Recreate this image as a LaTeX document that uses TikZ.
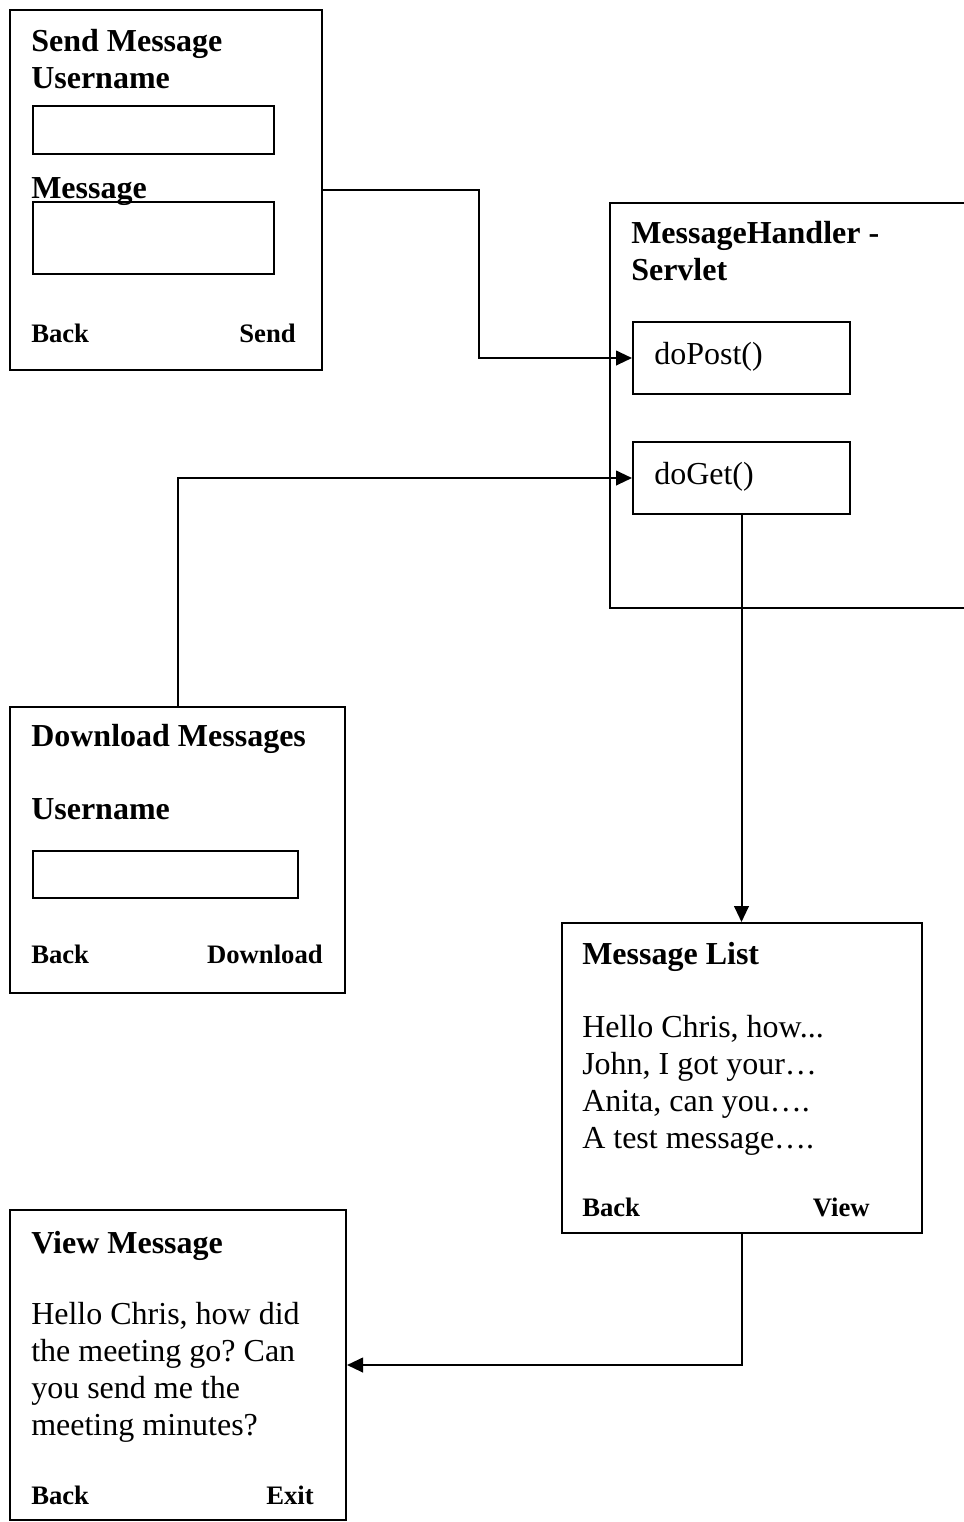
\documentclass[tikz,border=0pt]{standalone}
\usepackage{fontspec}
\setmainfont{Liberation Serif}
\frenchspacing
\usetikzlibrary{arrows.meta,fit}
\tikzset{
  screen/.style={draw, line width=1.5pt, inner sep=0pt},
  field/.style={draw, line width=1.5pt, inner sep=0pt},
  body/.style={font=\fontsize{24}{27.75}\selectfont, inner sep=0pt, anchor=base west, align=left},
  head/.style={body, font=\fontsize{24}{27.75}\selectfont\bfseries},
  softkey/.style={font=\fontsize{20}{24}\selectfont\bfseries, inner sep=0pt},
  arr/.style={line width=1.5pt, -{Triangle[length=12pt,width=11pt]}},
  link/.style={line width=1.5pt}
}
\begin{document}
\begin{tikzpicture}[x=0.75pt, y=-0.75pt]
\useasboundingbox (0,0) rectangle (964,1522);

% Send Message screen (multi-line nodes sit on the baseline of their last line)
\node[screen, fit={(10,10) (322,370)}] (send) {};
\node[head] (sendtitle) at (31,88) {Send Message\\Username};
\node[field, fit={(33,106) (274,154)}] (senduser) {};
\node[head] (sendmsglbl) at (31,198) {Message};
\node[field, fit={(33,202) (274,274)}] (sendmsg) {};
\node[softkey, anchor=base west] (sendback) at (31,342) {Back};
\node[softkey, anchor=base east] (sendsend) at (296,342) {Send};

% Servlet (runs off the right edge)
\draw[link] (964,203) -| (610,608) -- (964,608);
\node[head] (servtitle) at (631,280) {MessageHandler -\\Servlet};
\node[screen, fit={(633,322) (850,394)}] (dopost) {};
\node[body] (dopostlbl) at (654,364) {doPost()};
\node[screen, fit={(633,442) (850,514)}] (doget) {};
\node[body] (dogetlbl) at (654,484) {doGet()};

% Download Messages screen
\node[screen, fit={(10,707) (345,993)}] (download) {};
\node[head] (dltitle) at (31,746) {Download Messages};
\node[head] (dluserlbl) at (31,819) {Username};
\node[field, fit={(33,851) (298,898)}] (dluser) {};
\node[softkey, anchor=base west] (dlback) at (31,963) {Back};
\node[softkey, anchor=base east] (dlgo) at (323,963) {Download};

% Message List screen
\node[screen, fit={(562,923) (922,1233)}] (list) {};
\node[head] (listtitle) at (582,964) {Message List};
\node[body] (listbody) at (582,1148) {Hello Chris, how...\\John, I got your…\\Anita, can you….\\A test message….};
\node[softkey, anchor=base west] (listback) at (582,1216) {Back};
\node[softkey, anchor=base east] (listview) at (870,1216) {View};

% View Message screen
\node[screen, fit={(10,1210) (346,1520)}] (view) {};
\node[head] (viewtitle) at (31,1253) {View Message};
\node[body] (viewbody) at (31,1435) {Hello Chris, how did\\the meeting go? Can\\you send me the\\meeting minutes?};
\node[softkey, anchor=base west] (viewback) at (31,1504) {Back};
\node[softkey, anchor=base east] (viewexit) at (314,1504) {Exit};

% Connectors
\draw[arr] (send.east) -- ++(156,0) |- (dopost.west);
\draw[arr] (download.north) |- (doget.west);
\draw[arr] (doget.south) -- (doget.south |- list.north);
\draw[arr] (list.south) |- (view.east);
\end{tikzpicture}
\end{document}
